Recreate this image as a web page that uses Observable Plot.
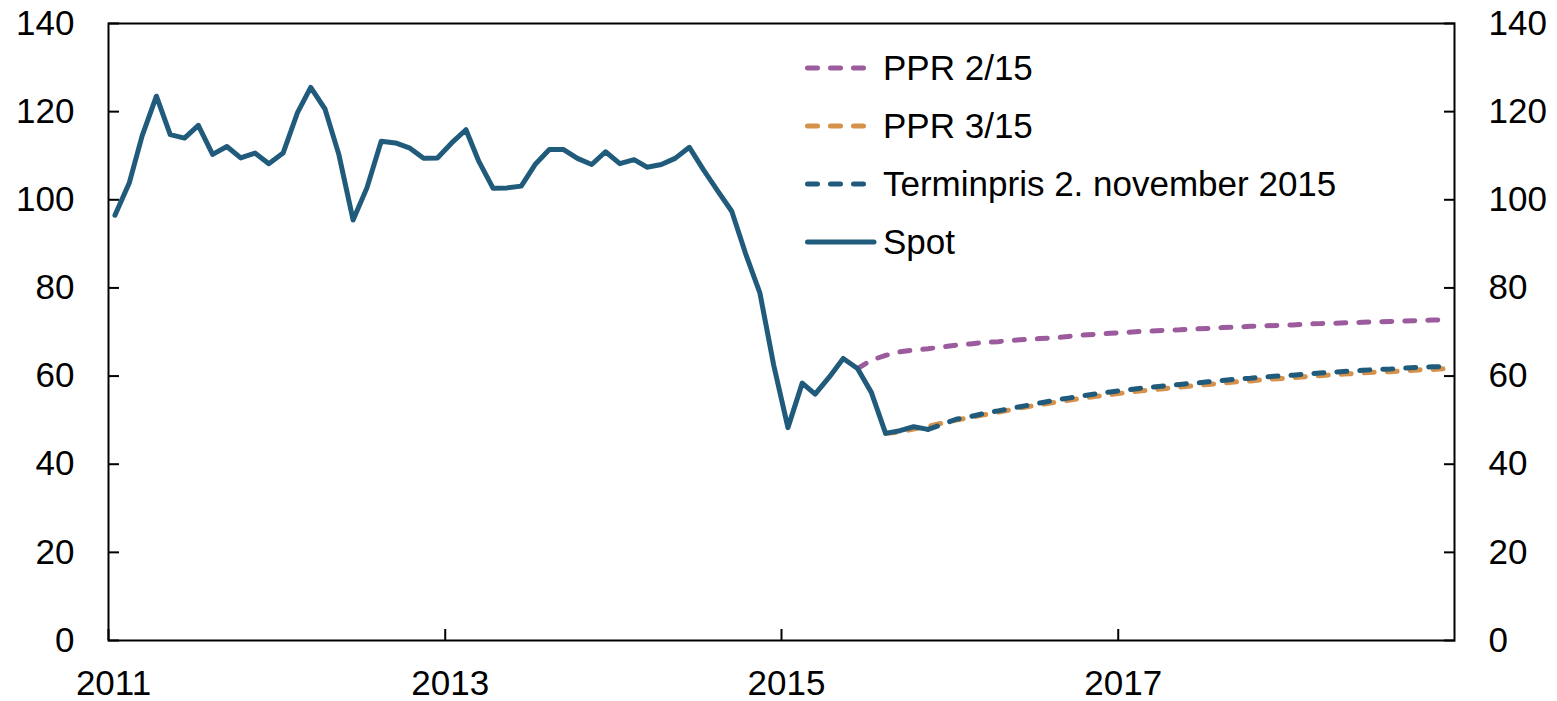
<!DOCTYPE html>
<html>
<head>
<meta charset="utf-8">
<script src="https://cdn.jsdelivr.net/npm/d3@7"></script>
<script src="https://cdn.jsdelivr.net/npm/@observablehq/plot@0.6"></script>
<style>
  html, body { margin: 0; padding: 0; background: #fff; }
  #wrap { position: relative; width: 1557px; height: 701px; font-family: 'Liberation Sans', Arial, sans-serif; }
  #legend { position: absolute; left: 805px; top: 39px; font-size: 35px; color: #000; }
  .row { display: flex; align-items: center; height: 58px; white-space: nowrap; }
  .row svg { width: 78px; height: 10px; flex: none; }
</style>
</head>
<body>
<div id="wrap"><div id="legend"></div></div>
<script>
// ---- data ----
const spotStart = [2011, 0];      // Jan 2011, monthly
const spotValues = [
  96.5,103.8,114.5,123.5,114.8,114.0,116.9,110.3,112.1,109.5,
  110.6,108.2,110.6,119.7,125.5,120.6,110.3,95.4,102.7,113.3,
  112.9,111.8,109.4,109.5,112.9,115.9,108.7,102.6,102.7,103.1,
  108.0,111.4,111.4,109.4,108.0,110.9,108.2,109.1,107.4,108.0,
  109.4,111.9,106.9,102.1,97.4,87.8,78.9,62.5,48.3,58.4,
  55.9,59.8,64.0,61.7,56.3,47.0,47.6,48.5,47.9
];
const ppr215Start = [2015, 5];    // Jun 2015
const ppr215Values = [
  61.7,63.6,64.7,65.5,65.9,66.2,66.6,67.0,67.3,67.6,
  67.8,68.1,68.3,68.5,68.7,69.0,69.3,69.5,69.7,69.9,
  70.1,70.2,70.4,70.5,70.7,70.8,71.0,71.1,71.3,71.4,
  71.5,71.6,71.8,71.9,72.0,72.1,72.2,72.3,72.4,72.5,
  72.6,72.7,72.8
];
const ppr315Start = [2015, 7];    // Aug 2015
const ppr315Values = [
  47.0,47.3,48.0,48.6,49.3,50.0,50.6,51.2,51.8,52.4,
  53.0,53.5,54.0,54.5,55.0,55.4,55.8,56.2,56.6,56.9,
  57.2,57.5,57.8,58.1,58.4,58.7,58.9,59.2,59.4,59.6,
  59.9,60.1,60.3,60.5,60.7,60.9,61.0,61.2,61.4,61.5,
  61.7
];
const terminStart = [2015, 10];   // Nov 2015
const terminValues = [
  47.9,49.0,50.2,50.8,51.5,52.1,52.7,53.3,53.9,54.5,
  55.0,55.5,56.0,56.4,56.8,57.2,57.5,57.8,58.1,58.4,
  58.7,59.0,59.3,59.5,59.8,60.0,60.2,60.5,60.7,60.9,
  61.1,61.3,61.5,61.6,61.8,62.0,62.1,62.2
];
const seriesNames = ["PPR 2/15", "PPR 3/15", "Terminpris 2. november 2015", "Spot"];
const seriesColors = ["#9B5B9C", "#D6924A", "#215B7B", "#215B7B"];
const yTicks = [0, 20, 40, 60, 80, 100, 120, 140];
const xTickYears = [2011, 2013, 2015, 2017];
const xDomainYears = [2011, 2019];

// ---- build tables ----
function monthly(start, values) {
  return values.map((v, i) => ({date: new Date(Date.UTC(start[0], start[1] + i, 15)), value: v}));
}
const spot = monthly(spotStart, spotValues);
const ppr215 = monthly(ppr215Start, ppr215Values);
const ppr315 = monthly(ppr315Start, ppr315Values);
const termin = monthly(terminStart, terminValues);
const xTicks = xTickYears.map(y => new Date(Date.UTC(y, 0, 1)));

const dashed = {strokeWidth: 5, strokeDasharray: "10,13", strokeLinecap: "round", strokeLinejoin: "round"};

const chart = Plot.plot({
  width: 1557,
  height: 701,
  marginLeft: 108,
  marginRight: 103,
  marginTop: 23,
  marginBottom: 61,
  style: {fontFamily: "'Liberation Sans', Arial, sans-serif", fontSize: "35px", color: "#000", background: "#fff", overflow: "visible"},
  x: {type: "utc", domain: xDomainYears.map(y => new Date(Date.UTC(y, 0, 1))), label: null},
  y: {domain: [0, 140], label: null},
  marks: [
    // inward ticks
    Plot.axisY({anchor: "left", ticks: yTicks, tickSize: 11, dx: 11, tickFormat: () => "", strokeWidth: 2, label: null}),
    Plot.axisY({anchor: "right", ticks: yTicks, tickSize: 11, dx: -11, tickFormat: () => "", strokeWidth: 2, label: null}),
    Plot.axisX({anchor: "bottom", ticks: xTicks, tickSize: 11, dy: -11, tickFormat: () => "", strokeWidth: 2, label: null}),
    // labels
    Plot.axisY({anchor: "left", ticks: yTicks, tickSize: 0, tickPadding: 34, fontSize: 35, label: null}),
    Plot.axisY({anchor: "right", ticks: yTicks, tickSize: 0, tickPadding: 34, fontSize: 35, label: null}),
    Plot.axisX({anchor: "bottom", ticks: xTicks, tickSize: 0, tickPadding: 30, dx: 5, fontSize: 35, tickFormat: d3.utcFormat("%Y"), label: null}),
    // series
    Plot.line(ppr215, {x: "date", y: "value", stroke: seriesColors[0], ...dashed}),
    Plot.line(ppr315, {x: "date", y: "value", stroke: seriesColors[1], ...dashed}),
    Plot.line(termin, {x: "date", y: "value", stroke: seriesColors[2], ...dashed}),
    Plot.line(spot, {x: "date", y: "value", stroke: seriesColors[3], strokeWidth: 5, strokeLinejoin: "round", strokeLinecap: "round"}),
    Plot.frame({stroke: "#000", strokeWidth: 2})
  ]
});
document.getElementById("wrap").prepend(chart);

// ---- legend ----
const legend = document.getElementById("legend");
seriesNames.forEach((name, i) => {
  const row = document.createElement("div");
  row.className = "row";
  const solid = name === "Spot";
  row.innerHTML =
    `<svg viewBox="0 0 78 10"><line x1="2.5" x2="${solid ? 69 : 61}" y1="5" y2="5" stroke="${seriesColors[i]}" stroke-width="5" stroke-linecap="round" ${solid ? "" : 'stroke-dasharray="10,13"'}/></svg><span>${name}</span>`;
  legend.appendChild(row);
});
</script>
</body>
</html>
